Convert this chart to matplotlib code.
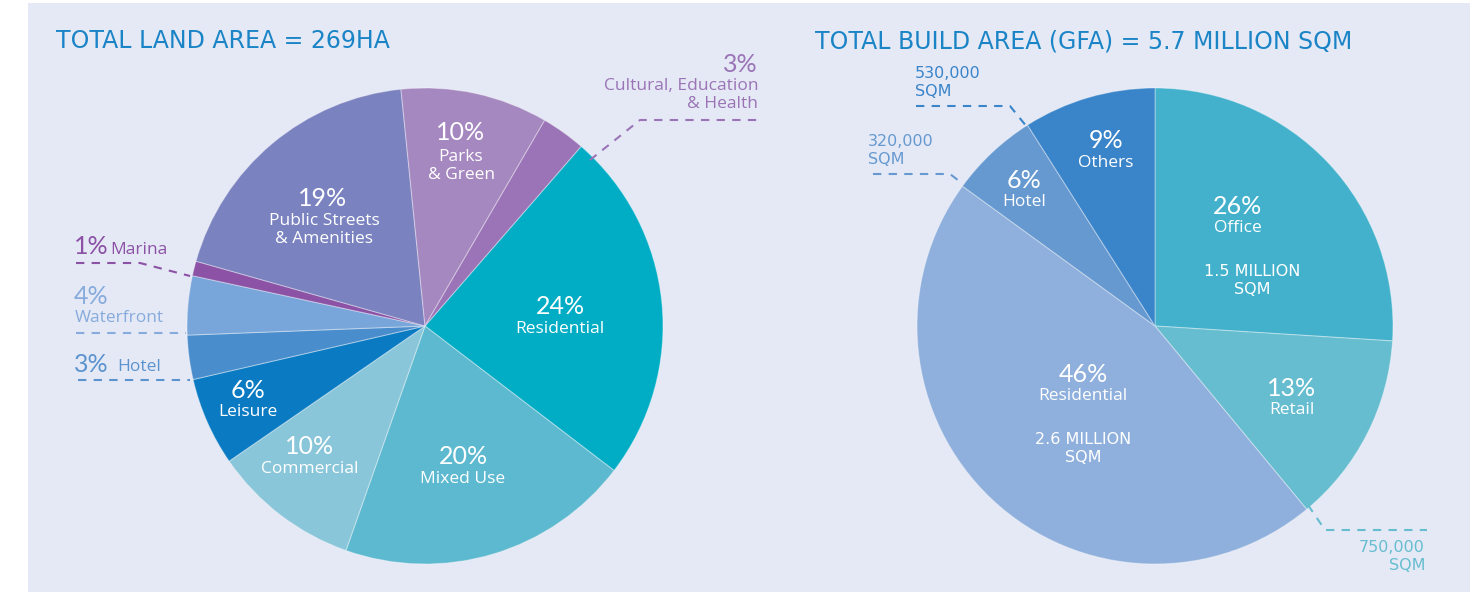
import matplotlib.pyplot as plt
from matplotlib.patches import Rectangle

# land use split (clockwise from Residential)
land_labels = ['Residential', 'Mixed Use', 'Commercial', 'Leisure', 'Hotel',
               'Waterfront', 'Marina', 'Public Streets\n& Amenities',
               'Parks\n& Green', 'Cultural, Education\n& Health']
land_pct = [24, 20, 10, 6, 3, 4, 1, 19, 10, 3]
land_colors = ['#00adc5', '#5db9cf', '#89c6d9', '#0a7bc2', '#4a8dcc',
               '#79a6da', '#8b52a6', '#7a82c0', '#a688c0', '#9a74b6']

# build area split (clockwise from Office)
gfa_labels = ['Office', 'Retail', 'Residential', 'Hotel', 'Others']
gfa_pct = [26, 13, 46, 6, 9]
gfa_sqm = ['1.5 MILLION\nSQM', '750,000\nSQM', '2.6 MILLION\nSQM',
           '320,000\nSQM', '530,000\nSQM']
gfa_colors = ['#43b1cc', '#67bdd0', '#8fb0dc', '#6699d0', '#3a84c9']

W, H = 1476, 592
bg = '#e5e9f5'
title_color = '#1a84c6'


def py(y):
    # convert from top-down pixel rows to axis y
    return H - y


fig = plt.figure(figsize=(W / 100, H / 100), dpi=100)
fig.patch.set_facecolor('white')
ax = fig.add_axes([0, 0, 1, 1])
ax.add_patch(Rectangle((28, 0), 1442, H - 3, facecolor=bg, edgecolor='none', zorder=0))

edge = dict(edgecolor=(1, 1, 1, 0.35), linewidth=0.8)
ax.pie(land_pct, colors=land_colors, startangle=49, counterclock=False,
       center=(425, py(326)), radius=238, wedgeprops=edge)
ax.pie(gfa_pct, colors=gfa_colors, startangle=90, counterclock=False,
       center=(1155, py(326)), radius=238, wedgeprops=edge)

ax.set_xlim(0, W)
ax.set_ylim(0, H)
ax.set_aspect('equal')
ax.axis('off')

title_font = dict(family='DejaVu Sans', fontsize=17, color=title_color, va='baseline')
ax.text(56, py(48), 'TOTAL LAND AREA = 269HA', **title_font)
ax.text(815, py(48), 'TOTAL BUILD AREA (GFA) = 5.7 MILLION SQM', **title_font)

pct_font = dict(family='Lato', fontsize=18, ha='center', va='center')
name_font = dict(family='Open Sans', fontsize=12.5, ha='center', va='center',
                 linespacing=1.15)
sqm_font = dict(family='DejaVu Sans', fontsize=11.5, va='center', linespacing=1.25)


def inside(x, y, pct, name, dy=22):
    ax.text(x, py(y), f'{pct}%', color='white', **pct_font)
    ax.text(x, py(y + dy), name, color='white', **name_font)


# labels inside the land pie
inside(560, 307, land_pct[0], land_labels[0])
inside(463, 457, land_pct[1], land_labels[1])
inside(310, 447, land_pct[2], land_labels[2])
inside(248, 390, land_pct[3], land_labels[3])
ax.text(323, py(198), f'{land_pct[7]}%', color='white', **pct_font)
ax.text(324, py(230), land_labels[7], color='white', **name_font)
ax.text(461, py(132), f'{land_pct[8]}%', color='white', **pct_font)
ax.text(461, py(166), land_labels[8], color='white', **name_font)

# outside labels of the land pie
dash = dict(linestyle=(0, (4, 3.5)), linewidth=1.5)
c = land_colors[9]
ax.text(758, py(64), f'{land_pct[9]}%', color=c, **{**pct_font, 'ha': 'right'})
ax.text(758, py(95), land_labels[9], color=c,
        **{**name_font, 'ha': 'right', 'multialignment': 'right'})
ax.plot([590, 640, 760], [py(160), py(120), py(120)], color=c, **dash)

c = land_colors[6]
ax.text(74, py(246), f'{land_pct[6]}%', color=c, **{**pct_font, 'ha': 'left'})
ax.text(110, py(250), land_labels[6], color=c, **{**name_font, 'ha': 'left'})
ax.plot([76, 140, 190], [py(263), py(263), py(276)], color=c, **dash)

c = '#86abdc'
ax.text(74, py(297), f'{land_pct[5]}%', color=c, **{**pct_font, 'ha': 'left'})
ax.text(75, py(318), land_labels[5], color=c, **{**name_font, 'ha': 'left'})
ax.plot([76, 186], [py(333), py(333)], color=c, **dash)

c = '#5b93cf'
ax.text(74, py(364), f'{land_pct[4]}%', color=c, **{**pct_font, 'ha': 'left'})
ax.text(117, py(367), land_labels[4], color=c, **{**name_font, 'ha': 'left'})
ax.plot([78, 190], [py(380), py(380)], color=c, **dash)

# labels inside the build area pie
inside(1238, 207, gfa_pct[0], gfa_labels[0], dy=21)
ax.text(1252, py(280), gfa_sqm[0], color='white', **{**sqm_font, 'ha': 'center'})
inside(1292, 388, gfa_pct[1], gfa_labels[1])
inside(1083, 374, gfa_pct[2], gfa_labels[2])
ax.text(1083, py(448), gfa_sqm[2], color='white', **{**sqm_font, 'ha': 'center'})
inside(1024, 180, gfa_pct[3], gfa_labels[3])
inside(1106, 141, gfa_pct[4], gfa_labels[4])

# outside sqm labels of the build area pie
c = gfa_colors[4]
ax.text(915, py(83), gfa_sqm[4], color=c, **{**sqm_font, 'ha': 'left'})
ax.plot([916, 1010, 1027], [py(106), py(106), py(127)], color=c, **dash)

c = gfa_colors[3]
ax.text(868, py(150), gfa_sqm[3], color=c, **{**sqm_font, 'ha': 'left'})
ax.plot([873, 950, 963], [py(174), py(174), py(184)], color=c, **dash)

c = gfa_colors[1]
ax.text(1425, py(556), gfa_sqm[1], color=c,
        **{**sqm_font, 'ha': 'right', 'multialignment': 'right'})
ax.plot([1308, 1325, 1427], [py(505), py(530), py(530)], color=c, **dash)

fig.savefig('out.png', dpi=100, facecolor=fig.get_facecolor())
